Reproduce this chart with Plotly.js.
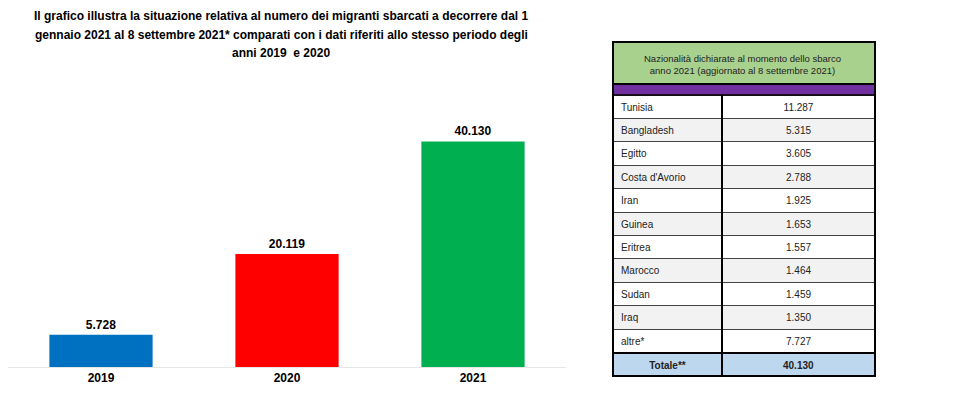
<!DOCTYPE html>
<html>
<head>
<meta charset="utf-8">
<script src="https://cdn.plot.ly/plotly-3.0.1.min.js"></script>
<style>html,body{margin:0;padding:0;background:#fff;}#chart{width:960px;height:400px;}</style>
</head>
<body>
<div id="chart"></div>
<script>
// ---- bar chart data ----
const years = ['2019', '2020', '2021'];
const migrants = [5728, 20119, 40130];
const barColors = ['#0070c0', '#ff0000', '#00b050'];

// ---- table data ----
const tableTitle = 'Nazionalità dichiarate al momento dello sbarco<br>anno 2021 (aggiornato al 8 settembre 2021)';
const nationalities = ['Tunisia', 'Bangladesh', 'Egitto', "Costa d'Avorio", 'Iran', 'Guinea', 'Eritrea', 'Marocco', 'Sudan', 'Iraq', 'altre*'];
const counts = [11287, 5315, 3605, 2788, 1925, 1653, 1557, 1464, 1459, 1350, 7727];
const totalLabel = 'Totale**';
const totalValue = 40130;

const titleLines = [
  'Il grafico illustra la situazione relativa al numero dei migranti sbarcati a decorrere dal 1',
  'gennaio 2021 al 8 settembre 2021* comparati con i dati riferiti allo stesso periodo degli',
  'anni 2019  e 2020'
];

function fmt(n) { return n.toString().replace(/\B(?=(\d{3})+(?!\d))/g, '.'); }

const W = 960, H = 400;
const px = x => x / W;
const py = y => 1 - y / H;

const col1 = nationalities.concat(['<b>' + totalLabel + '</b>']);
const col2 = counts.map(fmt).concat(['<b>' + fmt(totalValue) + '</b>']);
const rowFill = col1.map((_, i) => i === col1.length - 1 ? '#bdd7ee' : (i % 2 === 0 ? '#ffffff' : '#f2f2f2'));
const align1 = col1.map((_, i) => i === col1.length - 1 ? 'center' : 'left');
const align2 = col2.map(() => 'center');

const bar = {
  type: 'bar',
  x: years,
  y: migrants,
  marker: { color: barColors },
  texttemplate: '%{y:,}',
  textposition: 'outside',
  textfont: { family: 'Liberation Sans, Arial', size: 12, color: '#000', weight: 'bold' },
  cliponaxis: false,
  hoverinfo: 'skip',
  xaxis: 'x', yaxis: 'y'
};

const table = {
  type: 'table',
  domain: { x: [px(613), px(875)], y: [py(376), py(84)] },
  columnwidth: [109, 153],
  header: {
    values: ['', ''],
    height: 11,
    fill: { color: '#7030a0' },
    line: { color: '#7030a0', width: 0 }
  },
  cells: {
    values: [col1, col2],
    height: 23.4,
    align: [align1, align2],
    fill: { color: [rowFill, rowFill] },
    line: { color: '#444', width: 1 },
    font: { family: 'Liberation Sans, Arial', size: 10, color: '#222' }
  }
};

const shapes = [
  { type: 'rect', xref: 'paper', yref: 'paper', x0: px(613), x1: px(875), y0: py(84), y1: py(42),
    fillcolor: '#a9d18e', line: { color: '#000', width: 2 }, layer: 'above' },
  { type: 'rect', xref: 'paper', yref: 'paper', x0: px(613), x1: px(875), y0: py(376), y1: py(84),
    fillcolor: 'rgba(0,0,0,0)', line: { color: '#000', width: 2 }, layer: 'above' },
  { type: 'line', xref: 'paper', yref: 'paper', x0: px(722), x1: px(722), y0: py(376), y1: py(95),
    line: { color: '#000', width: 2 }, layer: 'above' },
  { type: 'line', xref: 'paper', yref: 'paper', x0: px(613), x1: px(875), y0: py(353), y1: py(353),
    line: { color: '#000', width: 2 }, layer: 'above' },
  { type: 'line', xref: 'paper', yref: 'paper', x0: px(613), x1: px(875), y0: py(95), y1: py(95),
    line: { color: '#000', width: 1.5 }, layer: 'above' }
];

const titleY = [16, 35, 53];
const annotations = titleLines.map((t, i) => ({
  text: t, xref: 'paper', yref: 'paper', x: px(281), y: py(titleY[i]),
  xanchor: 'center', yanchor: 'middle', showarrow: false,
  font: { family: 'Liberation Sans, Arial', size: 12, color: '#000', weight: 'bold' }
}));
annotations.push({
  text: tableTitle, xref: 'paper', yref: 'paper', x: px(742), y: py(64),
  xanchor: 'center', yanchor: 'middle', showarrow: false, align: 'center',
  font: { family: 'Liberation Sans, Arial', size: 9.5, color: '#222' }
});

const layout = {
  width: W, height: H,
  margin: { l: 0, r: 0, t: 0, b: 0 },
  paper_bgcolor: '#fff', plot_bgcolor: '#fff',
  separators: ',.',
  showlegend: false,
  xaxis: {
    type: 'category',
    domain: [px(8), px(566)],
    showline: true, linecolor: '#e6e6e6', linewidth: 1,
    ticks: '', showgrid: false, zeroline: false,
    tickfont: { family: 'Liberation Sans, Arial', size: 12, color: '#000', weight: 'bold' },
    fixedrange: true
  },
  yaxis: {
    domain: [py(367), py(114)],
    range: [0, 45000],
    visible: false, showgrid: false, zeroline: false,
    fixedrange: true
  },
  bargap: 0.445,
  shapes: shapes,
  annotations: annotations
};

Plotly.newPlot('chart', [bar, table], layout, { displayModeBar: false, staticPlot: true });
</script>
</body>
</html>
